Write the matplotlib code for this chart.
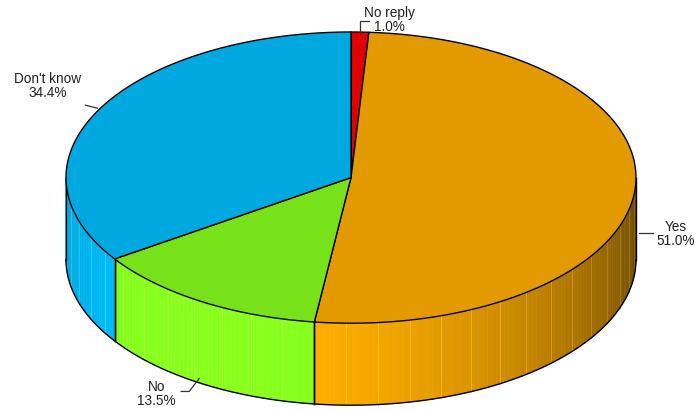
import numpy as np
import matplotlib.pyplot as plt
from matplotlib.patches import Polygon

labels = ["No reply", "Yes", "No", "Don't know"]
values = [1.0, 51.0, 13.5, 34.4]
top_colors = ['#e00000', '#e39a00', '#77e11a', '#00a8e0']

# pie geometry in pixels
cx, cy = 351, 178.6
rx, ry = 285, 145.6
depth = 82

plt.rcParams['font.family'] = ['Liberation Sans', 'DejaVu Sans']

fig = plt.figure(figsize=(6.96, 4.10), dpi=100)
ax = fig.add_axes([0, 0, 1, 1])
ax.set_xlim(0, 696)
ax.set_ylim(410, 0)
ax.axis('off')


def pt(t, dz=0.0):
    r = np.radians(t)
    return cx + rx * np.cos(r), cy - ry * np.sin(r) + dz


def shade(color, t):
    rgb = np.array(plt.matplotlib.colors.to_rgb(color))
    f = 0.69 + 0.47 * np.cos(np.radians(t + 120))
    return tuple(np.clip(rgb * f, 0, 1))


fracs = np.array(values) / sum(values)
starts = 90 - 360 * np.concatenate([[0], np.cumsum(fracs)[:-1]])
ends = starts - 360 * fracs

# side faces, front half only (angles -180..0)
for s, e, col in zip(starts, ends, top_colors):
    for shift in (0, -360, 360):
        lo = max(e + shift, -180)
        hi = min(s + shift, 0)
        if hi <= lo:
            continue
        ts = np.append(np.arange(lo, hi, 1.0), hi)
        for k in range(len(ts) - 1):
            t0, t1 = ts[k], ts[k + 1]
            c = shade(col, (t0 + t1) / 2)
            p = [pt(t0), pt(t1), pt(t1, depth), pt(t0, depth)]
            ax.add_patch(Polygon(p, closed=True, facecolor=c, edgecolor=c,
                                 linewidth=0.4, zorder=1))
        # light stripes
        for t in np.arange(np.ceil(lo / 6.5) * 6.5, hi, 6.5):
            c = np.clip(np.array(shade(col, t)) * 1.12 + 0.08, 0, 1)
            x0, y0 = pt(t)
            x1, y1 = pt(t, depth)
            ax.plot([x0, x1], [y0, y1], color=c, lw=0.7, alpha=0.8, zorder=1.5)
        # slice boundary lines on side
        for t in (lo, hi):
            if -180 < t < 0:
                x0, y0 = pt(t)
                x1, y1 = pt(t, depth)
                ax.plot([x0, x1], [y0, y1], color='black', lw=1.0, zorder=2)

# silhouette of the side
tt = np.linspace(-180, 0, 300)
bx, by = pt(tt, depth)
ax.plot(bx, by, color='black', lw=1.0, zorder=2)
for t in (-180, 0):
    x0, y0 = pt(t)
    x1, y1 = pt(t, depth)
    ax.plot([x0, x1], [y0, y1], color='black', lw=1.0, zorder=2)

# top face wedges
for s, e, col in zip(starts, ends, top_colors):
    ts = np.linspace(s, e, max(int(abs(s - e)), 2) + 1)
    xs, ys = pt(ts)
    poly = [(cx, cy)] + list(zip(xs, ys))
    ax.add_patch(Polygon(poly, closed=True, facecolor=col, edgecolor='black',
                         linewidth=1.0, joinstyle='round', zorder=3))

# labels with leader lines
mids = (starts + ends) / 2
label_cfg = {
    "No reply": dict(dz=0, path=[(0, 0), (0, -11), (9, -11)], txt=(29, -13)),
    "Yes": dict(dz=depth / 2, path=[(4, 0), (18, 0)], txt=(41, 0)),
    "No": dict(dz=depth, path=[(-2, -5), (-12, 8), (-20, 8)], txt=(-45, 10)),
    "Don't know": dict(dz=0, path=[(-2, -1), (-14, -4)], txt=(-52, -24)),
}
for lab, v, m in zip(labels, values, mids):
    cfg = label_cfg[lab]
    x0, y0 = pt(m, cfg['dz'])
    px = [x0 + d[0] for d in cfg['path']]
    py = [y0 + d[1] for d in cfg['path']]
    ax.plot(px, py, color='#333333', lw=0.9, zorder=4)
    ax.text(x0 + cfg['txt'][0], y0 + cfg['txt'][1], f"{lab}\n{v:.1f}%",
            ha='center', va='center', fontsize=9.8, color='#222222',
            linespacing=1.0, zorder=5)

fig.savefig('out.png', dpi=100)
